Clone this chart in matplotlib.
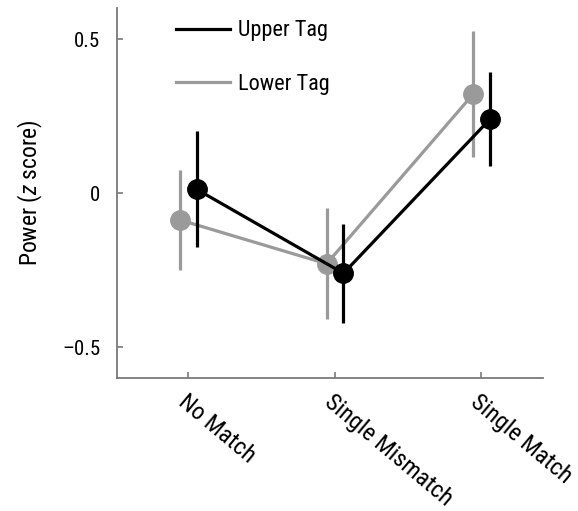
import matplotlib
matplotlib.use('Agg')
import matplotlib.pyplot as plt
import numpy as np
from matplotlib.lines import Line2D

plt.rcParams['font.family'] = ['Roboto Condensed', 'DejaVu Sans']
plt.rcParams['mathtext.fontset'] = 'custom'
plt.rcParams['mathtext.it'] = 'Roboto Condensed:italic'
plt.rcParams['mathtext.rm'] = 'Roboto Condensed'

# data
conditions = ['No Match', 'Single Mismatch', 'Single Match']
upper_mean = [0.012, -0.260, 0.240]
upper_err = [0.188, 0.161, 0.153]
lower_mean = [-0.087, -0.229, 0.321]
lower_err = [0.163, 0.180, 0.205]
ytick_vals = [-0.5, 0, 0.5]
ytick_text = ['\u20130.5', '0', '0.5']

x = np.arange(len(conditions))
gray = '#9a9a9a'
spine_col = '#7a7a7a'

fig = plt.figure(figsize=(5.78, 5.11), dpi=100)
ax = fig.add_axes([0.202, 0.260, 0.737, 0.724])

# lower tag (gray) drawn first, shifted left
ax.errorbar(x - 0.055, lower_mean, yerr=lower_err, color=gray, lw=2.3,
            elinewidth=2.3, capsize=0, marker='o', ms=14, mec=gray, mfc=gray, zorder=2)
# upper tag (black), shifted right
ax.errorbar(x + 0.06, upper_mean, yerr=upper_err, color='black', lw=2.3,
            elinewidth=2.3, capsize=0, marker='o', ms=14, mec='black', mfc='black', zorder=3)

ax.set_xlim(-0.487, 2.42)
ax.set_ylim(-0.6, 0.6)
ax.set_yticks(ytick_vals)
ax.set_yticklabels(ytick_text, fontsize=15)
ax.set_xticks(x)
ax.set_xticklabels(conditions, rotation=-40, ha='left', va='top', rotation_mode='anchor',
                   fontsize=17.5)

for s in ['top', 'right']:
    ax.spines[s].set_visible(False)
for s in ['left', 'bottom']:
    ax.spines[s].set_color(spine_col)
    ax.spines[s].set_linewidth(1.3)

ax.tick_params(axis='both', direction='in', length=4.5, width=1.2, color=spine_col)
ax.tick_params(axis='y', pad=12)
ax.tick_params(axis='x', pad=9)

ax.set_ylabel('Power ($\\it{z}$ score)', fontsize=17, labelpad=12)

handles = [Line2D([], [], color='black', lw=2.3), Line2D([], [], color=gray, lw=2.3)]
ax.legend(handles, ['Upper Tag', 'Lower Tag'], loc='upper left', bbox_to_anchor=(0.14, 0.967),
          frameon=False, fontsize=16, handlelength=2.4, handletextpad=0.38,
          labelspacing=1.45, borderpad=0, borderaxespad=0)

fig.savefig('out.png', dpi=100)
